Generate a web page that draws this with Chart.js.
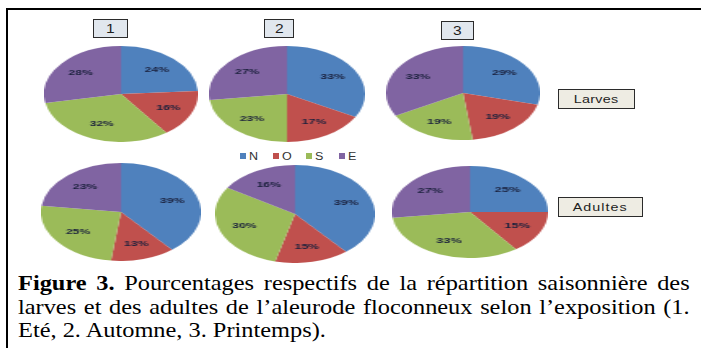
<!DOCTYPE html>
<html>
<head>
<meta charset="utf-8">
<script src="https://cdn.jsdelivr.net/npm/chart.js@4"></script>
<style>
  html, body { margin: 0; padding: 0; background: #fff; width: 701px; height: 348px; overflow: hidden; position: relative; }
  #frame { position: absolute; left: 6px; top: 8px; width: 700px; height: 345px; border-left: 2px solid #000; border-top: 2px solid #000; }
  .pie { position: absolute; transform-origin: 50% 50%; }
  .pie canvas { display: block; }
  .tag { position: absolute; box-sizing: border-box; border: 1.5px solid #2b2b2b; display: flex; align-items: center; justify-content: center;
         font-family: 'Liberation Sans', Arial, sans-serif; color: #1e1e1e; }
  .tag span { display: inline-block; transform: scaleX(1.3); }
  #legend { position: absolute; left: 240px; top: 150px; height: 12px; display: flex; font-family: 'Liberation Sans', Arial, sans-serif;
            font-size: 10px; color: #333; }
  #legend .item { width: 33px; display: flex; align-items: center; }
  #legend .sw { width: 6px; height: 6px; margin-right: 3px; }
  #legend .lt { display: inline-block; transform: scaleX(1.25); transform-origin: left center; }
  #caption { position: absolute; left: 18px; top: 272px; width: 579px; transform: scaleX(1.16); transform-origin: 0 0;
             font-family: 'Liberation Serif', 'Times New Roman', serif; font-size: 21px; line-height: 23.5px; color: #000; }
  #caption .j { text-align: justify; text-align-last: justify; }
</style>
</head>
<body>
<div id="frame"></div>
<div id="charts"></div>
<div id="legend"></div>
<div id="caption">
  <div class="j"><b>Figure 3.</b> Pourcentages respectifs de la répartition saisonnière des</div>
  <div class="j">larves et des adultes de l’aleurode floconneux selon l’exposition (1.</div>
  <div>Eté, 2. Automne, 3. Printemps).</div>
</div>
<script>
// Exposure categories and their slice colours
const directions = ['N', 'O', 'S', 'E'];
const sliceColors = ['#4F81BD', '#C0504D', '#9BBB59', '#8064A2'];

// Season headings
const seasons = ['1', '2', '3'];

// Stage labels
const stages = ['Larves', 'Adultes'];

// Percentages per exposure (N, O, S, E)
const larves1 = [24, 16, 32, 28];
const larves2 = [33, 17, 23, 27];
const larves3 = [29, 19, 19, 33];
const adultes1 = [39, 13, 25, 23];
const adultes2 = [39, 15, 30, 16];
const adultes3 = [25, 15, 33, 27];

// Layout of each pie: centre and the two radii of the ellipse
const pies = [
  { data: larves1,  cx: 121, cy: 94,  rx: 77, ry: 48 },
  { data: larves2,  cx: 287, cy: 94,  rx: 78, ry: 48 },
  { data: larves3,  cx: 463, cy: 93,  rx: 77, ry: 47 },
  { data: adultes1, cx: 121, cy: 212, rx: 80, ry: 49 },
  { data: adultes2, cx: 295, cy: 214, rx: 80, ry: 49 },
  { data: adultes3, cx: 470, cy: 212, rx: 78, ry: 46 }
];

// Writes each slice's percentage inside the slice
const percentLabels = {
  id: 'percentLabels',
  afterDatasetsDraw(chart) {
    const ctx = chart.ctx;
    const values = chart.data.datasets[0].data;
    const meta = chart.getDatasetMeta(0);
    ctx.save();
    ctx.font = 'bold 7.5px "Liberation Sans", Arial, sans-serif';
    ctx.fillStyle = '#1a203c';
    ctx.textAlign = 'center';
    ctx.textBaseline = 'middle';
    meta.data.forEach((arc, i) => {
      const p = arc.getProps(['x', 'y', 'startAngle', 'endAngle', 'outerRadius'], true);
      const mid = (p.startAngle + p.endAngle) / 2;
      const r = p.outerRadius * 0.68;
      ctx.fillText(values[i] + '%', p.x + Math.cos(mid) * r, p.y + Math.sin(mid) * r);
    });
    ctx.restore();
  }
};

const holder = document.getElementById('charts');
pies.forEach(pie => {
  const box = document.createElement('div');
  box.className = 'pie';
  const size = pie.ry * 2;
  box.style.left = (pie.cx - pie.ry) + 'px';
  box.style.top = (pie.cy - pie.ry) + 'px';
  box.style.width = size + 'px';
  box.style.height = size + 'px';
  box.style.transform = 'scaleX(' + (pie.rx / pie.ry) + ')';
  const canvas = document.createElement('canvas');
  box.appendChild(canvas);
  holder.appendChild(box);
  new Chart(canvas, {
    type: 'pie',
    data: {
      labels: directions,
      datasets: [{ data: pie.data, backgroundColor: sliceColors, borderWidth: 0 }]
    },
    options: {
      responsive: true,
      maintainAspectRatio: false,
      animation: false,
      layout: { padding: 0 },
      plugins: { legend: { display: false }, tooltip: { enabled: false } }
    },
    plugins: [percentLabels]
  });
});

// Season heading boxes above the first row
const seasonBoxes = [
  { left: 93,  top: 19, w: 35, h: 19 },
  { left: 264, top: 19, w: 30, h: 19 },
  { left: 441, top: 21, w: 33, h: 19 }
];
seasons.forEach((s, i) => {
  const b = seasonBoxes[i];
  const el = document.createElement('div');
  el.className = 'tag';
  Object.assign(el.style, { left: b.left + 'px', top: b.top + 'px', width: b.w + 'px', height: b.h + 'px',
                            background: '#e1e7ee', fontSize: '12px' });
  el.innerHTML = '<span>' + s + '</span>';
  document.body.appendChild(el);
});

// Stage boxes to the right of each row
const stageBoxes = [
  { left: 558, top: 89,  w: 77, h: 20 },
  { left: 558, top: 197, w: 85, h: 20 }
];
stages.forEach((s, i) => {
  const b = stageBoxes[i];
  const el = document.createElement('div');
  el.className = 'tag';
  Object.assign(el.style, { left: b.left + 'px', top: b.top + 'px', width: b.w + 'px', height: b.h + 'px',
                            background: '#eeece3', fontSize: '11px' });
  el.innerHTML = '<span style="letter-spacing:' + (i === 1 ? '0.8px' : '0.2px') + '">' + s + '</span>';
  document.body.appendChild(el);
});

// Shared legend between the two rows
const legend = document.getElementById('legend');
directions.forEach((d, i) => {
  const it = document.createElement('div');
  it.className = 'item';
  it.innerHTML = '<span class="sw" style="background:' + sliceColors[i] + '"></span><span class="lt">' + d + '</span>';
  legend.appendChild(it);
});
</script>
</body>
</html>
